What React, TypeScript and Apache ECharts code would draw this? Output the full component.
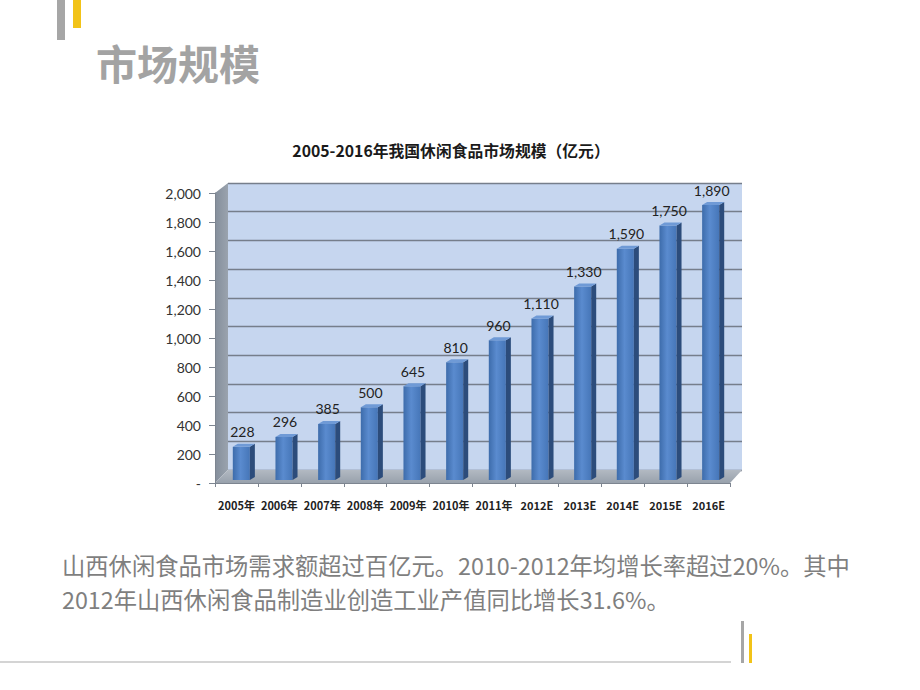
import React, { useEffect, useRef } from "react";
import * as echarts from "echarts";

const categories = ["2005年", "2006年", "2007年", "2008年", "2009年", "2010年", "2011年", "2012E", "2013E", "2014E", "2015E", "2016E"];
const marketSize = [228, 296, 385, 500, 645, 810, 960, 1110, 1330, 1590, 1750, 1890];
const yMin = 0;
const yMax = 2000;
const yInterval = 200;
const slideTitle = "市场规模";
const chartTitle = "2005-2016年我国休闲食品市场规模（亿元）";
const bodyLines = [
  "山西休闲食品市场需求额超过百亿元。2010-2012年均增长率超过20%。其中",
  "2012年山西休闲食品制造业创造工业产值同比增长31.6%。",
];

const fmt = (v: number) => (v === 0 ? "-" : v.toLocaleString("en-US"));

export default function App() {
  const ref = useRef<HTMLDivElement>(null);
  useEffect(() => {
    if (!ref.current) return;
    const chart = echarts.init(ref.current, undefined, { renderer: "svg" });
    const numFont = "Lato, 'Noto Sans', sans-serif";
    const cjk = "'Noto Sans CJK SC', sans-serif";
    const option: any = {
      animation: false,
      backgroundColor: "#ffffff",
      grid: [
        { left: 228, top: 183, width: 514, height: 287, show: true, backgroundColor: "#c6d6ef", borderWidth: 0 },
        { left: 215, top: 193, width: 515, height: 290 },
        { left: 220, top: 189, width: 512, height: 291 },
      ],
      xAxis: [
        { gridIndex: 0, type: "category", data: categories, show: false },
        {
          gridIndex: 1,
          type: "category",
          data: categories,
          axisLine: { show: true, lineStyle: { color: "#7d8590", width: 1 } },
          axisTick: { show: true, length: 4, lineStyle: { color: "#7d8590" } },
          axisLabel: { margin: 16, color: "#222", fontSize: 11, fontWeight: "bold", fontFamily: cjk, interval: 0 },
          z: 3,
        },
        { gridIndex: 2, type: "category", data: categories, show: false },
      ],
      yAxis: [
        {
          gridIndex: 0,
          type: "value",
          min: yMin,
          max: yMax,
          interval: yInterval,
          axisLabel: { show: false },
          axisLine: { show: false },
          axisTick: { show: false },
          splitLine: { show: true, lineStyle: { color: "#767e8b", width: 1.4 } },
        },
        {
          gridIndex: 1,
          type: "value",
          min: yMin,
          max: yMax,
          interval: yInterval,
          axisLine: { show: true, lineStyle: { color: "#7d8590" } },
          axisTick: { show: true, length: 6, lineStyle: { color: "#7d8590" } },
          splitLine: { show: false },
          axisLabel: { margin: 14, color: "#333", fontSize: 14, fontFamily: numFont, formatter: (v: number) => fmt(v) },
          z: 3,
        },
        { gridIndex: 2, type: "value", min: yMin, max: yMax, interval: yInterval, show: false, splitLine: { show: false } },
      ],
      graphic: [
        { type: "rect", shape: { x: 57, y: 0, width: 8, height: 40 }, style: { fill: "#a6a6a6" } },
        { type: "rect", shape: { x: 73, y: 0, width: 8, height: 28 }, style: { fill: "#f2c318" } },
        {
          type: "text",
          x: 96,
          y: 62,
          style: { text: slideTitle, fill: "#a3a3a3", font: `bold 41px ${cjk}`, verticalAlign: "middle", align: "left" },
        },
        {
          type: "text",
          x: 451,
          y: 150,
          style: { text: chartTitle, fill: "#1a1a1a", font: `bold 15.8px ${cjk}`, verticalAlign: "middle", align: "center" },
        },
        {
          type: "polygon",
          z: 1,
          shape: { points: [[215, 193], [228, 183], [228, 470], [215, 483]] },
          style: {
            fill: new echarts.graphic.LinearGradient(0, 0, 1, 0, [
              { offset: 0, color: "#848e9b" },
              { offset: 1, color: "#9aa3ae" },
            ]),
          },
        },
        {
          type: "polygon",
          z: 1,
          shape: { points: [[215, 483], [228, 470], [742, 470], [730, 483]] },
          style: {
            fill: new echarts.graphic.LinearGradient(0, 0, 0, 1, [
              { offset: 0, color: "#b2b9c2" },
              { offset: 1, color: "#98a1ac" },
            ]),
          },
        },
        ...bodyLines.map((t, i) => ({
          type: "text",
          x: 62,
          y: 565 + i * 34,
          style: { text: t, fill: "#7f7f7f", font: `23.3px ${cjk}`, verticalAlign: "middle", align: "left" },
        })),
        { type: "line", shape: { x1: 0, y1: 662, x2: 731, y2: 662 }, style: { stroke: "#d4d4d4", lineWidth: 2 } },
        { type: "rect", shape: { x: 741, y: 621, width: 3, height: 42 }, style: { fill: "#a6a6a6" } },
        { type: "rect", shape: { x: 749, y: 634, width: 3, height: 29 }, style: { fill: "#f2c318" } },
      ],
      series: [
        {
          type: "custom",
          xAxisIndex: 2,
          yAxisIndex: 2,
          z: 5,
          data: marketSize.map((v, i) => [i, v]),
          renderItem: (params: any, api: any) => {
            const idx = api.value(0);
            const val = api.value(1);
            const top = api.coord([idx, val]);
            const base = api.coord([idx, 0]);
            const band = api.size([1, 0])[0];
            const w = band * 0.4;
            const dx = 5;
            const dy = 3;
            const x0 = top[0] - w / 2;
            const x1 = top[0] + w / 2;
            const ty = top[1];
            const by = base[1];
            return {
              type: "group",
              children: [
                {
                  type: "rect",
                  shape: { x: x0, y: ty, width: w, height: by - ty },
                  style: {
                    fill: new echarts.graphic.LinearGradient(0, 0, 1, 0, [
                      { offset: 0, color: "#3d6cab" },
                      { offset: 0.45, color: "#5a8bcf" },
                      { offset: 1, color: "#4676b8" },
                    ]),
                  },
                },
                {
                  type: "polygon",
                  shape: { points: [[x1, ty], [x1 + dx, ty - dy], [x1 + dx, by - dy], [x1, by]] },
                  style: { fill: "#2c4c7b" },
                },
                {
                  type: "polygon",
                  shape: { points: [[x0, ty], [x1, ty], [x1 + dx, ty - dy], [x0 + dx, ty - dy]] },
                  style: { fill: "#6f9ad6" },
                },
                {
                  type: "text",
                  x: top[0] + 1,
                  y: ty - 15,
                  style: { text: fmt(val), fill: "#222", font: `14px ${numFont}`, align: "center", verticalAlign: "middle" },
                },
              ],
            };
          },
        },
      ],
    };
    chart.setOption(option);
    return () => chart.dispose();
  }, []);
  return <div ref={ref} style={{ position: "absolute", left: 0, top: 0, width: 920, height: 690 }} />;
}
